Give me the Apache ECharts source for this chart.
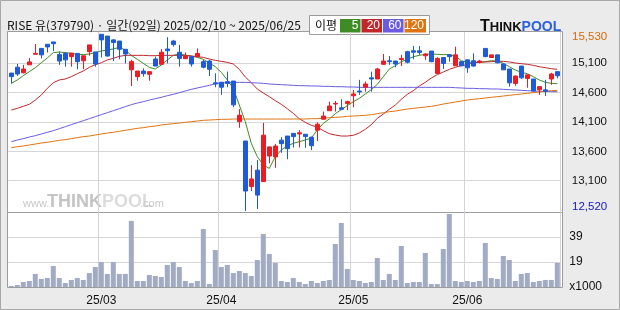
<!DOCTYPE html>
<html><head><meta charset="utf-8">
<script src="https://cdn.jsdelivr.net/npm/echarts@6/dist/echarts.min.js"></script>
<style>html,body{margin:0;padding:0;background:#ebebeb;}#c{width:620px;height:310px;}</style>
</head><body><div id="c"></div>
<script>
const dates = ['2025/02/10','2025/02/11','2025/02/12','2025/02/13','2025/02/14','2025/02/17','2025/02/18','2025/02/19','2025/02/20','2025/02/21','2025/02/24','2025/02/25','2025/02/26','2025/02/27','2025/02/28',
'2025/03/04','2025/03/05','2025/03/06','2025/03/07','2025/03/10','2025/03/11','2025/03/12','2025/03/13','2025/03/14','2025/03/17','2025/03/18','2025/03/19','2025/03/20','2025/03/21','2025/03/24','2025/03/25','2025/03/26','2025/03/27','2025/03/28','2025/03/31',
'2025/04/01','2025/04/02','2025/04/03','2025/04/04','2025/04/07','2025/04/08','2025/04/09','2025/04/10','2025/04/11','2025/04/14','2025/04/15','2025/04/16','2025/04/17','2025/04/18','2025/04/21','2025/04/22','2025/04/23','2025/04/24','2025/04/25','2025/04/28','2025/04/29','2025/04/30',
'2025/05/02','2025/05/07','2025/05/08','2025/05/09','2025/05/12','2025/05/13','2025/05/14','2025/05/15','2025/05/16','2025/05/19','2025/05/20','2025/05/21','2025/05/22','2025/05/23','2025/05/26','2025/05/27','2025/05/28','2025/05/29','2025/05/30',
'2025/06/02','2025/06/04','2025/06/05','2025/06/09','2025/06/10','2025/06/11','2025/06/12','2025/06/13','2025/06/16','2025/06/17','2025/06/18','2025/06/19','2025/06/20','2025/06/23','2025/06/24','2025/06/25'];

const opens = [14865,14965,14870,15005,15185,15285,15355,15395,15180,15200,15145,15200,15075,15230,15225,15525,15495,15430,15410,15270,14920,14805,14900,14845,15105,15015,15275,15410,15220,15110,15145,15145,15060,15070,14700,14710,14720,14730,14040,13710,12935,13215,13020,13455,13440,13725,13795,13840,13830,13825,13775,13895,14080,14225,14340,14275,14350,14480,14560,14625,14785,14765,15015,15075,15070,15095,15230,15245,15245,15160,15240,14860,15130,15175,14990,15060,15090,15075,15050,15285,15130,15175,15020,14935,14690,14985,14775,14765,14580,14580,14765,14890];
const closes = [14805,14850,14935,15055,15200,15175,15310,15365,15070,15090,15205,15060,15160,15345,15020,15430,15155,15385,15270,15190,15060,14900,14855,14890,14985,15220,15245,15350,15115,15155,15020,15200,14965,14930,14680,14625,14690,14325,14150,12860,13065,12790,13810,13610,13625,13665,13580,13785,13850,13785,13630,13995,14135,14305,14350,14250,14380,14510,14545,14680,14765,14935,15070,15060,15020,15115,15050,15220,15215,15190,15060,15115,15030,15145,15175,14990,14955,14985,15070,15145,15175,15040,14920,14700,14815,14785,14835,14560,14635,14555,14850,14820];
const lows = [14690,14815,14860,15005,15185,15115,15215,15240,15005,14975,14975,14930,14930,15160,14975,15130,15145,15070,15100,15030,14645,14735,14805,14735,14985,15005,15030,15315,14975,15110,14975,15135,14945,14815,14625,14495,14625,14285,13935,12520,12860,12555,13020,13330,13255,13510,13400,13600,13600,13595,13555,13710,14080,14225,14210,14235,14235,14285,14495,14550,14550,14765,15005,15005,14965,14985,15030,15100,15175,15090,15050,14850,14935,15060,14990,14985,14870,14975,15030,15135,15130,15030,14920,14635,14650,14765,14615,14550,14495,14475,14665,14775];
const highs = [14870,15020,15005,15120,15360,15285,15355,15395,15230,15220,15205,15200,15160,15345,15225,15530,15495,15445,15410,15270,15090,14900,14945,14890,15145,15275,15475,15430,15345,15215,15145,15285,15090,15090,14860,14710,14890,14730,14255,13710,13300,13385,14020,13615,13660,13775,13795,13840,13895,13825,13785,14030,14210,14380,14390,14420,14395,14580,14750,14720,14890,14955,15190,15155,15075,15175,15245,15325,15325,15200,15240,15135,15130,15175,15315,15060,15090,15200,15090,15285,15175,15175,15030,14935,14820,14985,14835,14765,14635,14750,14870,14890];

const volumes = [0.8,1.6,3.9,4.7,10.2,6.3,7.0,16.4,7.0,3.1,5.5,7.0,5.5,10.9,15.6,19.5,10.2,19.5,10.2,10.2,51.6,4.7,4.7,9.4,8.6,7.8,17.2,19.5,15.6,4.7,3.1,4.7,45.3,2.3,28.9,15.6,17.2,10.9,12.5,10.9,8.6,21.1,41.4,25.8,18.8,4.7,3.9,7.0,3.9,2.3,4.7,3.1,4.7,5.5,33.6,50.0,14.1,5.5,4.7,3.1,3.9,22.7,5.5,10.2,5.5,32.0,3.1,3.9,3.9,26.6,2.3,2.3,29.7,57.0,4.7,3.9,4.7,3.9,4.7,34.4,7.0,6.3,24.2,21.1,4.7,10.2,10.9,3.9,4.7,5.5,5.5,18.8];

const ma5 = [14691,14748,14821,14889,14957,15042,15122,15213,15224,15213,15201,15184,15179,15190,15213,15241,15258,15275,15303,15258,15167,15099,15031,14963,14935,15003,15088,15167,15190,15173,15156,15133,15099,15037,14974,14878,14748,14606,14322,14039,13671,13444,13302,13245,13444,13557,13625,13671,13699,13727,13761,13897,14011,14084,14175,14243,14311,14379,14436,14510,14583,14674,14804,14935,14991,15059,15099,15144,15167,15184,15190,15184,15179,15179,15156,15076,15048,15048,15054,15059,15076,15071,15031,14974,14918,14878,14855,14804,14748,14708,14691,14685];
const ma20 = [14237,14266,14300,14334,14407,14493,14606,14702,14748,14765,14804,14855,14901,14963,15008,15042,15088,15116,15150,15167,15167,15167,15167,15161,15161,15167,15167,15167,15167,15161,15156,15144,15133,15105,15082,15065,15048,15020,14929,14799,14702,14595,14527,14464,14396,14334,14260,14181,14090,14028,13977,13948,13886,13835,13812,13795,13795,13807,13846,13909,13988,14096,14169,14249,14322,14419,14504,14566,14646,14708,14782,14838,14884,14929,14963,14991,15008,15042,15048,15054,15059,15065,15065,15054,15037,15025,15014,14997,14974,14957,14940,14929];
const ma60 = [13699,13727,13750,13778,13801,13829,13858,13886,13920,13954,13988,14022,14056,14090,14124,14158,14192,14226,14260,14294,14328,14356,14379,14407,14430,14453,14481,14504,14532,14561,14589,14612,14634,14657,14685,14697,14702,14708,14708,14708,14702,14697,14691,14680,14674,14668,14663,14657,14651,14651,14646,14646,14640,14640,14634,14634,14629,14629,14623,14623,14623,14623,14623,14623,14623,14623,14623,14623,14623,14623,14623,14623,14623,14623,14617,14612,14606,14606,14600,14600,14595,14595,14589,14583,14578,14572,14566,14561,14555,14555,14549,14549];
const ma120 = [13597,13614,13625,13642,13659,13676,13688,13705,13722,13733,13750,13767,13784,13795,13812,13829,13846,13858,13875,13892,13909,13926,13937,13954,13965,13982,13994,14005,14016,14028,14039,14050,14062,14067,14073,14079,14079,14084,14084,14084,14084,14084,14084,14084,14084,14084,14084,14084,14084,14084,14090,14090,14096,14107,14113,14118,14130,14135,14141,14147,14158,14175,14192,14209,14220,14237,14254,14266,14277,14288,14300,14317,14339,14356,14373,14390,14407,14419,14430,14441,14453,14464,14475,14487,14498,14510,14521,14532,14544,14555,14566,14572];

const priceTicks = [13100, 13600, 14100, 14600, 15100];
const volumeTicks = [19, 39];
const maLabels = ['5', '20', '60', '120'];

const C_UP = '#ea1c24', C_DOWN = '#1f5ad8';
const MA_COLORS = ['#3e8c24', '#c0282c', '#6a5ce2', '#e07410'];
const FONT = 'Liberation Sans';

const chart = echarts.init(document.getElementById('c'), null, {renderer: 'canvas'});

const monthStart = dates.map((d, i) => i > 0 && d.slice(5, 7) !== dates[i - 1].slice(5, 7));
const fmt = v => Number(v).toLocaleString('en-US');

const tickStep = priceTicks[1] - priceTicks[0];
const maxHigh = Math.max(...highs), minLow = Math.min(...lows);

const PLOT_L = 8.3, PLOT_W = 552;

const title = `RISE 유(379790) · 일간(${dates.length}일) ${dates[0]} ~ ${dates[dates.length - 1]}`;

const legendX = [340, 361.5, 383, 404.5];
const legendW = [20.5, 20.5, 20.5, 21.5];

const graphics = [
  {type: 'rect', z: -5, shape: {x: 0.5, y: 0.5, width: 619, height: 309}, style: {fill: '#ebebeb', stroke: '#a8a8a8', lineWidth: 1}},
  {type: 'rect', z: -1, shape: {x: 7.5, y: 31.5, width: 555, height: 181}, style: {fill: '#fff', stroke: '#9c9c9c', lineWidth: 1}},
  {type: 'rect', z: -1, shape: {x: 7.5, y: 212.5, width: 555, height: 75}, style: {fill: '#fff', stroke: '#9c9c9c', lineWidth: 1}},
  {type: 'text', x: 7, y: 25, style: {text: title, fontSize: 12, fontFamily: '"Noto Sans CJK KR"', fill: '#111', verticalAlign: 'middle'}},
  {type: 'rect', shape: {x: 309.5, y: 15.5, width: 120, height: 19}, style: {fill: '#fff', stroke: '#9a9a9a', lineWidth: 1}},
  {type: 'text', x: 315, y: 25.5, style: {text: '이평', fontSize: 12, fontFamily: '"Noto Sans CJK KR"', fill: '#111', verticalAlign: 'middle'}},
  // watermark
  {type: 'text', x: 23, y: 209, z: 0, style: {text: 'www.', fontSize: 11, fontFamily: FONT, fill: '#c8c8c8', verticalAlign: 'bottom'}},
  {type: 'text', x: 47, y: 211, z: 0, style: {text: '{a|THINK}{b|POOL}', fontFamily: FONT, verticalAlign: 'bottom',
     rich: {a: {fontSize: 18, fontWeight: 'bold', fill: '#c4c4c4', fontFamily: FONT}, b: {fontSize: 18, fontWeight: 'bold', fill: '#dcdcdc', fontFamily: FONT}}}},
  {type: 'text', x: 140, y: 209, z: 0, style: {text: '.com', fontSize: 11, fontFamily: FONT, fill: '#c8c8c8', verticalAlign: 'bottom'}},
  // logo
  {type: 'text', x: 480, y: 27, style: {text: '{a|T}{b|HINK}{c|POOL}', verticalAlign: 'middle',
     rich: {a: {fontSize: 16, fontWeight: 'bold', fill: '#111', fontFamily: FONT},
            b: {fontSize: 13, fontWeight: 'bold', fill: '#111', fontFamily: FONT},
            c: {fontSize: 14, fontWeight: 'bold', fill: '#2f62d8', fontFamily: FONT}}}},
  // extreme labels
  {type: 'text', x: 572, y: 37, style: {text: fmt(maxHigh), fontSize: 11.5, fontFamily: FONT, fill: '#d46a0c', verticalAlign: 'middle'}},
  {type: 'text', x: 572, y: 207, style: {text: fmt(minLow), fontSize: 11.5, fontFamily: FONT, fill: '#1414c8', verticalAlign: 'middle'}}
];
maLabels.forEach((lab, k) => {
  graphics.push({type: 'rect', shape: {x: legendX[k], y: 19, width: legendW[k], height: 13.5}, style: {fill: MA_COLORS[k]}});
  graphics.push({type: 'text', x: legendX[k] + legendW[k] - 2, y: 25.8, style: {text: lab, fontSize: 12, fontFamily: FONT, fill: '#fff', align: 'right', verticalAlign: 'middle'}});
});

const catAxisBase = {
  type: 'category', data: dates, boundaryGap: true,
  axisLine: {show: false}, axisTick: {show: false},
  splitLine: {show: true, interval: (i) => monthStart[i], lineStyle: {color: '#d4d4d4', width: 1}}
};

const maSeries = [ma5, ma20, ma60, ma120].map((arr, k) => ({
  type: 'line', name: 'MA' + maLabels[k], xAxisIndex: 0, yAxisIndex: 0, data: arr,
  symbol: 'none', smooth: false, lineStyle: {color: MA_COLORS[k], width: 1}, z: 2, silent: true
}));

const option = {
  animation: false,
  backgroundColor: '#ebebeb',
  graphic: graphics,
  grid: [
    {left: PLOT_L, top: 32, width: PLOT_W, height: 180},
    {left: PLOT_L, top: 33.95, width: PLOT_W, height: 176.1},
    {left: PLOT_L, top: 212.1, width: PLOT_W, height: 74.9}
  ],
  xAxis: [
    Object.assign({}, catAxisBase, {gridIndex: 0, axisLabel: {show: false}}),
    {type: 'value', gridIndex: 1, min: 0, max: 1, show: false},
    Object.assign({}, catAxisBase, {gridIndex: 2,
      axisLabel: {show: true, interval: (i) => monthStart[i], margin: 8, fontSize: 12, fontFamily: FONT, color: '#111',
        formatter: (v) => v.slice(2, 4) + '/' + v.slice(5, 7)}})
  ],
  yAxis: [
    {type: 'value', gridIndex: 0, min: 12503, max: 15564, show: false, splitLine: {show: false}},
    {type: 'value', gridIndex: 1, position: 'right',
      min: priceTicks[0] - tickStep, max: priceTicks[priceTicks.length - 1] + tickStep, interval: tickStep,
      axisLine: {show: false}, axisTick: {show: false},
      axisLabel: {margin: 11.5, fontSize: 11.5, fontFamily: FONT, color: '#111',
        formatter: (v) => priceTicks.includes(v) ? fmt(v) : ''},
      splitLine: {show: true, showMinLine: false, showMaxLine: false, lineStyle: {color: '#d6d6d6', width: 1}}},
    {type: 'value', gridIndex: 2, position: 'right', min: 0, max: 58.5, interval: 19.5,
      axisLine: {show: false}, axisTick: {show: false},
      axisLabel: {margin: 9, fontSize: 12, fontFamily: FONT, color: '#111',
        formatter: (v) => v === 0 ? 'x1000' : (volumeTicks.includes(Math.floor(v)) ? String(Math.floor(v)) : '')},
      splitLine: {show: true, showMinLine: false, showMaxLine: false, lineStyle: {color: '#d6d6d6', width: 1}}}
  ],
  series: [
    {type: 'candlestick', xAxisIndex: 0, yAxisIndex: 0, barWidth: 4, z: 3, silent: true,
      data: opens.map((o, i) => [o, closes[i], lows[i], highs[i]]),
      itemStyle: {color: C_UP, color0: C_DOWN, borderColor: C_UP, borderColor0: C_DOWN, borderWidth: 1}},
    ...maSeries,
    {type: 'bar', xAxisIndex: 2, yAxisIndex: 2, data: volumes, barWidth: 5, silent: true,
      itemStyle: {color: '#a2abc4'}}
  ]
};
chart.setOption(option);
</script>
</body></html>
